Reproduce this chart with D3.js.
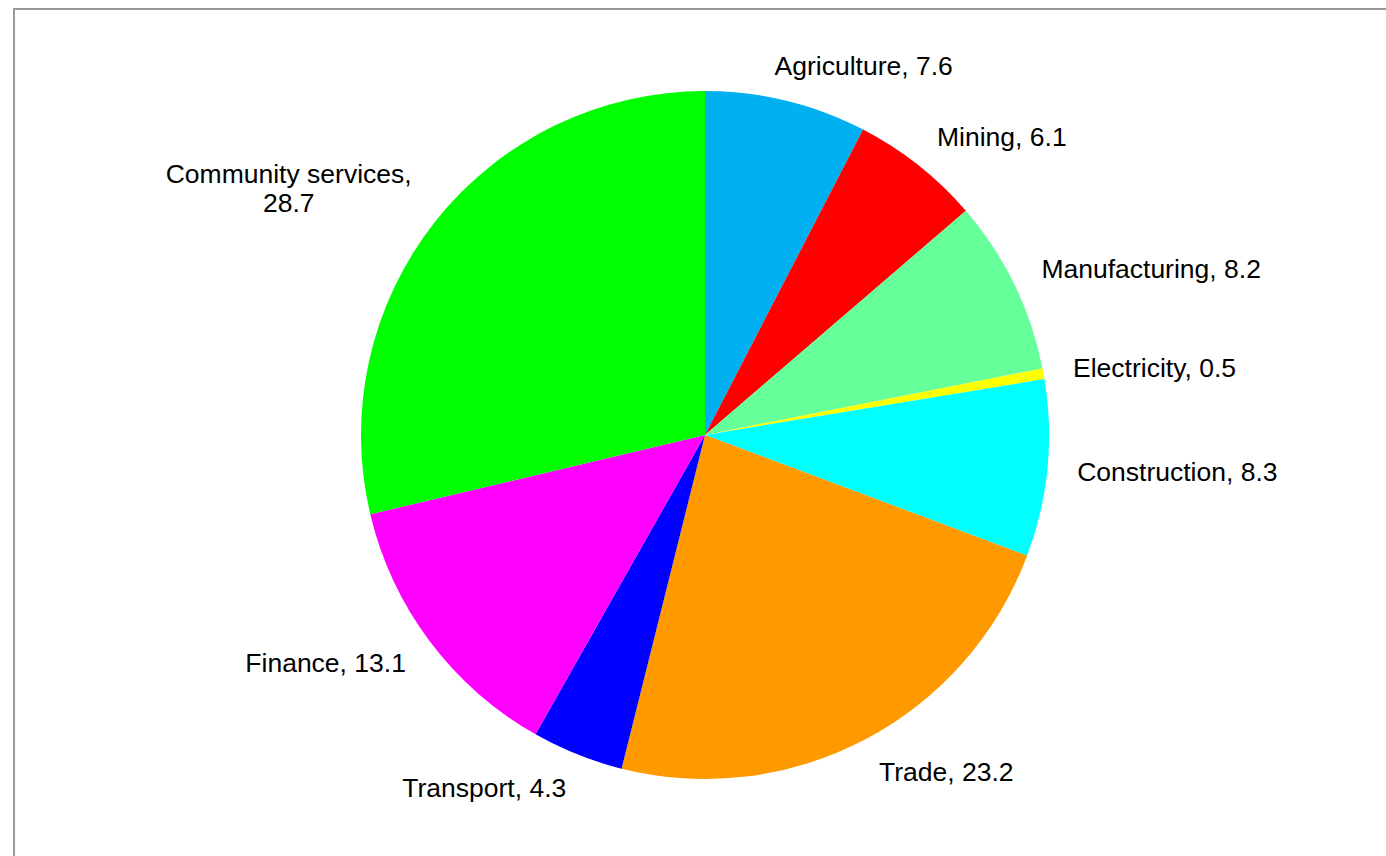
<!DOCTYPE html>
<html>
<head>
<meta charset="utf-8">
<script src="https://cdn.jsdelivr.net/npm/d3@7"></script>
<style>
  html, body { margin: 0; padding: 0; background: #fff; overflow: hidden; }
  svg { display: block; }
  text { font-family: Arial, "Liberation Sans", sans-serif; fill: #000; }
</style>
</head>
<body>
<svg id="chart" width="1386" height="856"></svg>
<script>
// Share of employment by industry (%)
const industries = ["Agriculture", "Mining", "Manufacturing", "Electricity", "Construction",
                    "Trade", "Transport", "Finance", "Community services"];
const shares = [7.6, 6.1, 8.2, 0.5, 8.3, 23.2, 4.3, 13.1, 28.7];
const sliceColors = ["#00B0F0", "#FF0000", "#66FF99", "#FFFF00", "#00FFFF",
                     "#FF9900", "#0000FF", "#FF00FF", "#00FF00"];

const W = 1386, H = 856;
const cx = 705, cy = 435, radius = 344;
const labelRx = radius + 30, labelRy = radius + 36;
const fontSize = 26.5;
const wrapWidth = 260;

const svg = d3.select("#chart");

// chart area frame
svg.append("rect")
  .attr("x", 14).attr("y", 9)
  .attr("width", W + 20).attr("height", H + 20)
  .attr("fill", "#fff")
  .attr("stroke", "#9a9a9a")
  .attr("stroke-width", 2);

const data = industries.map((name, i) => ({ name, value: shares[i], color: sliceColors[i] }));

const pie = d3.pie().value(d => d.value).sort(null);
const arcs = pie(data);
const arc = d3.arc().innerRadius(0).outerRadius(radius);

const g = svg.append("g").attr("transform", `translate(${cx},${cy})`);

g.selectAll("path.slice")
  .data(arcs)
  .join("path")
  .attr("class", "slice")
  .attr("d", arc)
  .attr("fill", d => d.data.color);

// outside-end labels: the box edge facing the pie sits just beyond the rim
const measurer = svg.append("text").attr("font-size", fontSize).attr("visibility", "hidden");
function textWidth(s) { measurer.text(s); return measurer.node().getComputedTextLength(); }

const labels = g.append("g");
arcs.forEach(a => {
  const mid = (a.startAngle + a.endAngle) / 2;
  const s = Math.sin(mid), c = Math.cos(mid);
  const px = labelRx * s, py = -labelRy * c;
  const full = `${a.data.name}, ${a.data.value.toFixed(1)}`;
  let lines = [full];
  if (textWidth(full) > wrapWidth) lines = [`${a.data.name},`, a.data.value.toFixed(1)];
  const boxW = d3.max(lines, textWidth);
  const f = Math.max(-1, Math.min(1, s / 0.3));
  const lx = px + f * boxW / 2;
  const lineH = fontSize * 1.1;
  const top = py - (lines.length - 1) * lineH / 2 - (lines.length > 1 ? 11 : 0);
  const t = labels.append("text")
    .attr("font-size", fontSize)
    .attr("text-anchor", "middle");
  lines.forEach((ln, i) => {
    t.append("tspan")
      .attr("x", lx)
      .attr("y", top + i * lineH)
      .attr("dy", "0.35em")
      .text(ln);
  });
});
measurer.remove();
</script>
</body>
</html>
